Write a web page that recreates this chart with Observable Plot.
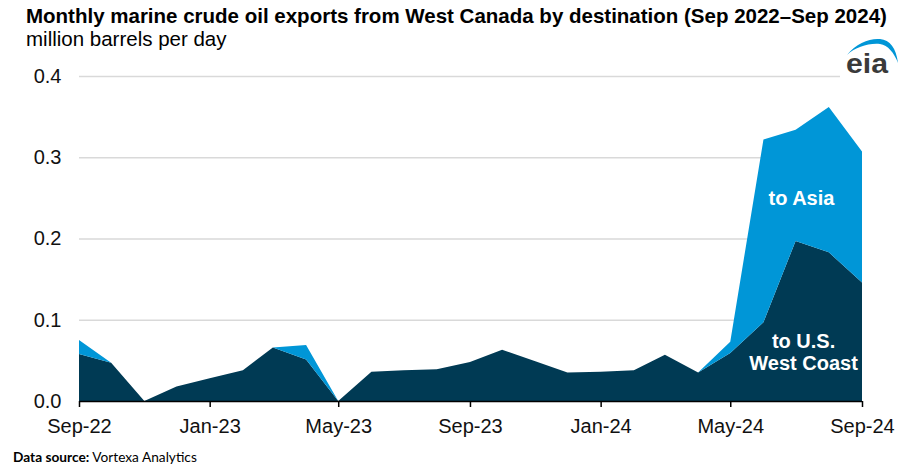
<!DOCTYPE html>
<html><head><meta charset="utf-8">
<script src="https://cdn.jsdelivr.net/npm/d3@7"></script>
<script src="https://cdn.jsdelivr.net/npm/@observablehq/plot@0.6"></script>
<style>
body{margin:0;background:#fff;font-family:"Liberation Sans",Arial,sans-serif;}
#wrap{position:relative;width:908px;height:471px;overflow:hidden;background:#fff}
#title{position:absolute;left:26px;top:4px;font-weight:bold;font-size:20.5px;color:#000;white-space:nowrap}
#sub{position:absolute;left:26px;top:27px;font-size:20.5px;color:#000;white-space:nowrap}
#chart{position:absolute;left:0;top:50px}
#logo{position:absolute;left:840px;top:28px}
#src{position:absolute;left:13px;top:448px;font-size:13.7px;font-family:Lato,"Open Sans",sans-serif;color:#000;white-space:nowrap}
</style></head><body>
<div id="wrap">
<div id="title">Monthly marine crude oil exports from West Canada by destination (Sep 2022–Sep 2024)</div>
<div id="sub">million barrels per day</div>
<div id="chart"></div>
<svg id="logo" width="66" height="52" viewBox="0 0 66 52">
  <rect x="0" y="0" width="66" height="52" fill="#fff"/>
  <path d="M7 27 C16 15 30 10 40 11 C50 12 56 20 58 35 C54 25 48 17 40 16 C28 15 16 19 7 27 Z" fill="#0096d7"/>
  <text x="6" y="45" textLength="42" lengthAdjust="spacingAndGlyphs" font-family="Liberation Sans, Arial" font-weight="bold" font-size="28" fill="#3a3a3a">eia</text>
</svg>
<div id="src"><b>Data source:</b> Vortexa Analytics</div>
</div>
<script>
const months = ["2022-09","2022-10","2022-11","2022-12","2023-01","2023-02","2023-03","2023-04","2023-05","2023-06","2023-07","2023-08","2023-09","2023-10","2023-11","2023-12","2024-01","2024-02","2024-03","2024-04","2024-05","2024-06","2024-07","2024-08","2024-09"];
const westCoast = [0.058,0.047,0,0.018,0.028,0.038,0.066,0.051,0,0.036,0.038,0.039,0.048,0.063,0.049,0.035,0.036,0.038,0.057,0.035,0.059,0.097,0.197,0.183,0.146];
const asia = [0.017,0,0,0,0,0,0,0.018,0,0,0,0,0,0,0,0,0,0,0,0,0.014,0.225,0.137,0.179,0.161];
const seriesNames = ["to U.S. West Coast","to Asia"];
const seriesColors = ["#003a54","#0096d7"];
const yTicks = [0,0.1,0.2,0.3,0.4];
const xTicks = ["2022-09","2023-01","2023-05","2023-09","2024-01","2024-05","2024-09"];
const labelTexts = ["to Asia","to U.S.\nWest Coast"];
const labelDates = ["2024-07-06","2024-07-08"];
const labelValues = [0.25,0.0605];

const parse = d3.utcParse("%Y-%m");
const data = [];
seriesNames.forEach((s, k) => {
  const vals = k === 0 ? westCoast : asia;
  months.forEach((m, i) => data.push({date: parse(m), value: vals[i], series: s}));
});
const labels = labelTexts.map((t, i) => ({text: t, date: d3.utcParse("%Y-%m-%d")(labelDates[i]), value: labelValues[i]}));

const chart = Plot.plot({
  width: 908,
  height: 390,
  marginLeft: 79,
  marginRight: 46,
  marginTop: 26,
  marginBottom: 39,
  style: {fontFamily: "Liberation Sans, Arial, sans-serif", fontSize: "20px", color: "#111", background: "transparent"},
  x: {type: "utc", domain: [parse(months[0]), parse(months[months.length-1])]},
  y: {domain: [0, 0.4]},
  color: {domain: seriesNames, range: seriesColors},
  marks: [
    Plot.ruleY(yTicks.filter(d => d > 0), {stroke: "#d9d9d9", strokeWidth: 1.5}),
    Plot.areaY(data, {x: "date", y: "value", z: "series", fill: "series", order: seriesNames}),
    Plot.ruleY([0], {stroke: "#000", strokeWidth: 1.5}),
    Plot.axisX({ticks: xTicks.map(parse), tickFormat: d3.utcFormat("%b-%y"), tickSize: 6, tickPadding: 11, stroke: "#000", strokeWidth: 1.5, label: null}),
    Plot.axisY({ticks: yTicks, tickFormat: d3.format(".1f"), tickSize: 0, tickPadding: 18, label: null}),
    Plot.text(labels, {x: "date", y: "value", text: "text", fill: "#fff", fontWeight: "bold", fontSize: 20, lineHeight: 1.1})
  ]
});
document.getElementById("chart").appendChild(chart);
</script>
</body></html>
